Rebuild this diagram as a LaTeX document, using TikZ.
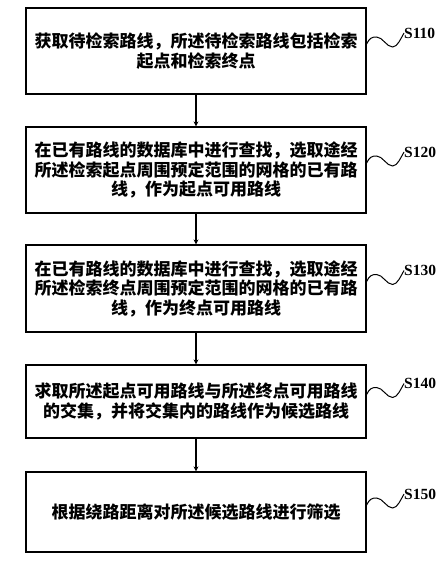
\documentclass[tikz,border=0pt]{standalone}
\usepackage{fontspec}
\setmainfont{Liberation Serif}
\newfontfamily\cjk{Noto Sans CJK SC}
\usetikzlibrary{arrows.meta}
\begin{document}
\begin{tikzpicture}[x=1pt,y=-1pt,
  stepbox/.style={draw,line width=1.2pt,minimum width=340pt,inner sep=0pt,align=center,
    font=\cjk\bfseries\fontsize{17}{19.5}\selectfont},
  flow/.style={line width=1.2pt,-{Stealth[length=5pt,width=5pt]}},
  leader/.style={line width=1pt},
  tag/.style={anchor=west,inner sep=0pt,font=\bfseries\fontsize{15.5}{17}\selectfont}]
\useasboundingbox (0,0) rectangle (444,564);
\fill[white] (0,0) rectangle (444,564);
\node[stepbox,minimum height=86pt] (b1) at (196,51) {获取待检索路线，所述待检索路线包括检索\\起点和检索终点};
\node[stepbox,minimum height=86pt] (b2) at (196,170) {在已有路线的数据库中进行查找，选取途经\\所述检索起点周围预定范围的网格的已有路\\线，作为起点可用路线};
\node[stepbox,minimum height=87pt] (b3) at (196,288.5) {在已有路线的数据库中进行查找，选取途经\\所述检索终点周围预定范围的网格的已有路\\线，作为终点可用路线};
\node[stepbox,minimum height=73pt] (b4) at (196,401.5) {求取所述起点可用路线与所述终点可用路线\\的交集，并将交集内的路线作为候选路线};
\node[stepbox,minimum height=80pt] (b5) at (196,512) {根据绕路距离对所述候选路线进行筛选};
\draw[flow] (b1.south) -- (b2.north);
\draw[flow] (b2.south) -- (b3.north);
\draw[flow] (b3.south) -- (b4.north);
\draw[flow] (b4.south) -- (b5.north);
\foreach \b/\c/\t in {b1/51/S110,b2/170/S120,b3/288.5/S130,b4/401.5/S140,b5/512/S150}{
  \coordinate (\b s) at ([yshift=7pt]\b.east);
  \node[tag] (\b t) at (404,\c-18) {\t};
  \draw[leader] (\b s) .. controls +(3,-6) and +(-5,0) .. ++(10,-7)
     .. controls +(6,0) and +(-6,0) .. ++(16,10)
     .. controls +(5,0) and +(-3,5) .. (\b t.west);
}
\end{tikzpicture}
\end{document}
